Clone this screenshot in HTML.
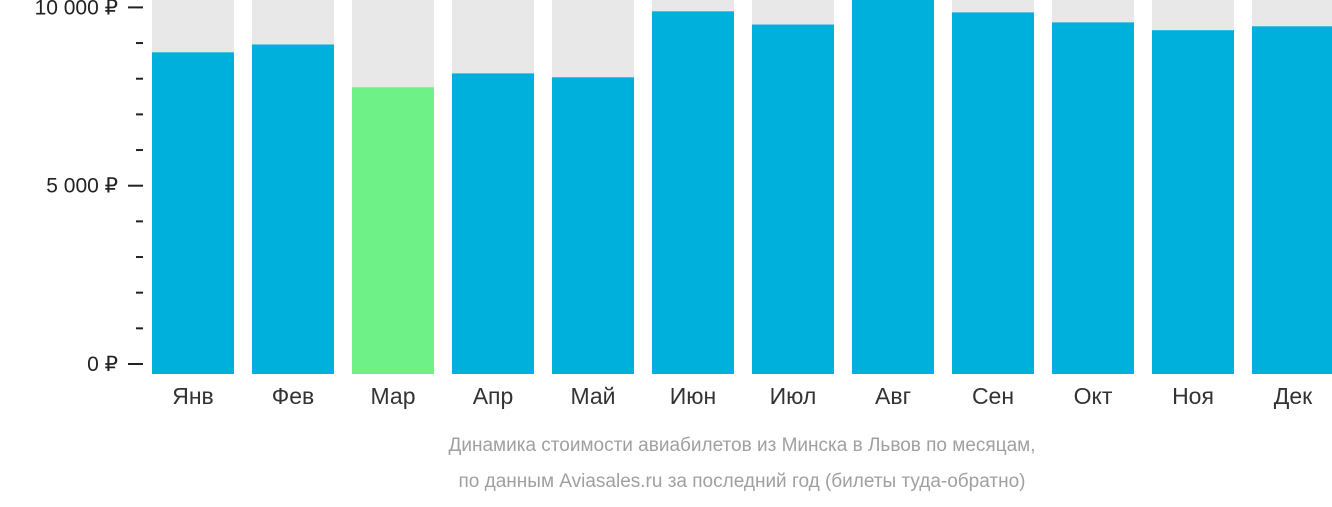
<!DOCTYPE html>
<html><head><meta charset="utf-8"><style>
body{margin:0;background:#fff;width:1332px;height:502px;overflow:hidden;font-family:"Liberation Sans",sans-serif}
</style></head><body>
<svg width="1332" height="502">
<g id="bars"></g><g id="axis"></g><g id="xlabels"></g>
<text x="742" y="451" text-anchor="middle" font-size="19" fill="#a0a0a0">Динамика стоимости авиабилетов из Минска в Львов по месяцам,</text>
<text x="742" y="487" text-anchor="middle" font-size="19" fill="#a0a0a0">по данным Aviasales.ru за последний год (билеты туда-обратно)</text>
</svg>
<script>
const months=["Янв","Фев","Мар","Апр","Май","Июн","Июл","Авг","Сен","Окт","Ноя","Дек"];
const prices=[8740,8960,7760,8150,8040,9890,9520,10400,9860,9580,9360,9470];
const highlight=[2];
const tickValues=[0,5000,10000];
const tickLabels=["0 ₽","5 000 ₽","10 000 ₽"];
const NS="http://www.w3.org/2000/svg";
const y=v=>364-v*0.03566;
const x=i=>152+i*100;
function mk(t,a,p){const e=document.createElementNS(NS,t);for(const k in a)e.setAttribute(k,a[k]);p.appendChild(e);return e;}
const bars=document.getElementById('bars'),axis=document.getElementById('axis'),xl=document.getElementById('xlabels');
months.forEach((m,i)=>{
 const bg=mk('rect',{x:x(i),y:0,width:82,height:374,fill:'#e8e8e8'},bars);
 
 
 const top=Math.max(0,y(prices[i]));
 const r=mk('rect',{x:x(i),y:top,width:82,height:374-top,fill:highlight.includes(i)?'#6ef288':'#00b0dc'},bars);
 
 
 const t=mk('text',{x:x(i)+41,y:404,'text-anchor':'middle','font-size':23,fill:'#333'},xl);
 t.textContent=m;
 
 
});
for(let v=0;v<=10000;v+=1000){
 const major=v%5000===0;
 const l=mk('line',{x1:major?128:136,x2:143,y1:y(v),y2:y(v),stroke:'#222','stroke-width':2},axis);
 
 
}
tickValues.forEach((v,i)=>{
 const t=mk('text',{x:118,y:y(v)+7,'text-anchor':'end','font-size':21,fill:'#222'},axis);
 t.textContent=tickLabels[i];
 
 
});
</script>
</body></html>
